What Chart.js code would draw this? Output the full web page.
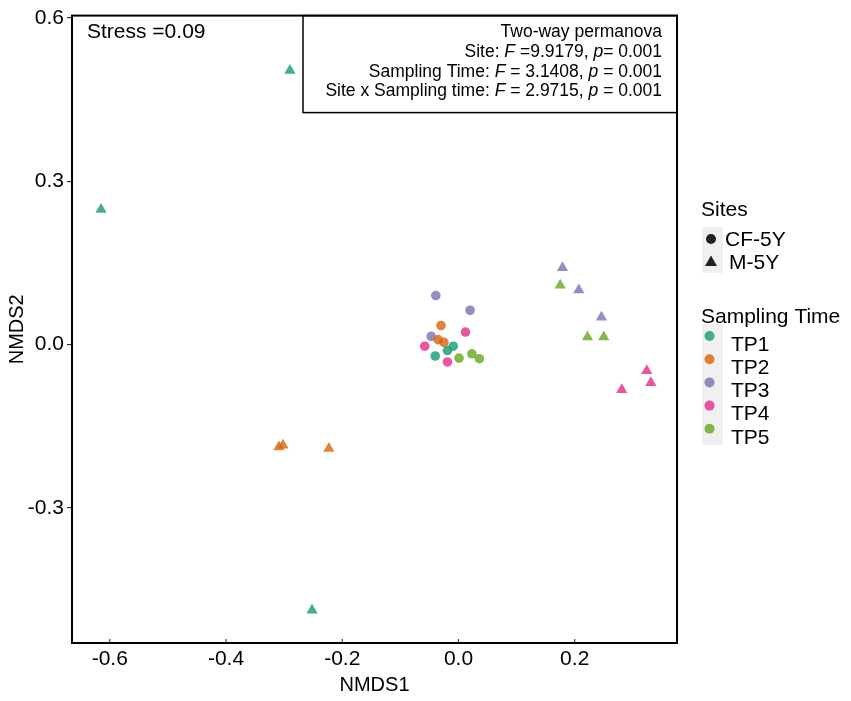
<!DOCTYPE html>
<html><head><meta charset="utf-8">
<script src="https://cdn.jsdelivr.net/npm/chart.js@4.4.1/dist/chart.umd.min.js"></script>
<style>html,body{margin:0;padding:0;background:#fff;}#wrap{position:relative;width:851px;height:701px;}</style>
</head><body><div id="wrap"><canvas id="c" width="851" height="701"></canvas></div>
<script>
// ---- data ----
const sites = ["CF-5Y", "M-5Y"];
const times = ["TP1", "TP2", "TP3", "TP4", "TP5"];
const xTicks = [-0.6, -0.4, -0.2, 0.0, 0.2];
const yTicks = [-0.3, 0.0, 0.3, 0.6];
const xLabel = "NMDS1";
const yLabel = "NMDS2";
const stressText = "Stress =0.09";
const permTitle = "Two-way permanova";
const permSite = [["Site: ", false], ["F", true], [" =9.9179, ", false], ["p", true], ["= 0.001", false]];
const permTime = [["Sampling Time: ", false], ["F", true], [" = 3.1408, ", false], ["p", true], [" = 0.001", false]];
const permInter = [["Site x Sampling time: ", false], ["F", true], [" = 2.9715, ", false], ["p", true], [" = 0.001", false]];

// CF-5Y (circles) [NMDS1, NMDS2]
const cf_TP1 = [[-0.009, -0.003], [-0.019, -0.011], [-0.040, -0.021]];
const cf_TP2 = [[-0.030, 0.035], [-0.035, 0.009], [-0.025, 0.004]];
const cf_TP3 = [[-0.039, 0.090], [0.020, 0.063], [-0.047, 0.015]];
const cf_TP4 = [[0.012, 0.023], [-0.058, -0.003], [-0.019, -0.032]];
const cf_TP5 = [[0.023, -0.017], [0.036, -0.026], [0.001, -0.025]];
// M-5Y (triangles)
const m_TP1 = [[-0.290, 0.503], [-0.615, 0.248], [-0.252, -0.488]];
const m_TP2 = [[-0.309, -0.188], [-0.302, -0.185], [-0.223, -0.191]];
const m_TP3 = [[0.179, 0.141], [0.207, 0.100], [0.246, 0.050]];
const m_TP4 = [[0.324, -0.048], [0.331, -0.070], [0.281, -0.083]];
const m_TP5 = [[0.175, 0.109], [0.222, 0.014], [0.250, 0.014]];

const colors = ["rgba(27,158,119,0.82)", "rgba(217,95,2,0.78)", "rgba(117,112,179,0.78)", "rgba(231,41,138,0.8)", "rgba(102,166,30,0.8)"];
const cfData = [cf_TP1, cf_TP2, cf_TP3, cf_TP4, cf_TP5];
const mData = [m_TP1, m_TP2, m_TP3, m_TP4, m_TP5];

const FONT = '"Liberation Sans", Arial, sans-serif';
const datasets = [];
times.forEach((t, i) => {
  datasets.push({label: sites[0] + " " + t, data: cfData[i].map(p => ({x: p[0], y: p[1]})),
    pointStyle: 'circle', pointRadius: 4.8, pointHoverRadius: 4.8, backgroundColor: colors[i], borderColor: colors[i], pointBorderWidth: 0});
  datasets.push({label: sites[1] + " " + t, data: mData[i].map(p => ({x: p[0], y: p[1]})),
    pointStyle: 'triangle', pointRadius: 6.5, pointHoverRadius: 6.5, backgroundColor: colors[i], borderColor: colors[i], pointBorderWidth: 0});
});

function drawRich(ctx, segs, rightX, y, size) {
  let total = 0;
  const ws = segs.map(s => { ctx.font = (s[1] ? 'italic ' : '') + size + 'px ' + FONT; const w = ctx.measureText(s[0]).width; total += w; return w; });
  let x = rightX - total;
  ctx.textAlign = 'left';
  segs.forEach((s, k) => { ctx.font = (s[1] ? 'italic ' : '') + size + 'px ' + FONT; ctx.fillText(s[0], x, y); x += ws[k]; });
}

const decor = {
  id: 'decor',
  afterDraw(chart) {
    const ctx = chart.ctx, a = chart.chartArea;
    ctx.save();
    // inward x ticks
    const xs = chart.scales.x;
    ctx.strokeStyle = '#444'; ctx.lineWidth = 1.2;
    xTicks.forEach(v => { const px = xs.getPixelForValue(v); ctx.beginPath(); ctx.moveTo(px, a.bottom); ctx.lineTo(px, a.bottom - 4); ctx.stroke(); });
    // annotation box
    ctx.fillStyle = '#fff';
    ctx.fillRect(303, a.top, a.right - 303, 97);
    ctx.strokeStyle = '#000'; ctx.lineWidth = 1.5;
    ctx.strokeRect(303, a.top, a.right - 303, 97);
    ctx.fillStyle = '#000'; ctx.textBaseline = 'middle';
    ctx.font = '17.5px ' + FONT; ctx.textAlign = 'right';
    ctx.fillText(permTitle, 662, 32);
    drawRich(ctx, permSite, 662, 52, 17.5);
    drawRich(ctx, permTime, 662, 72, 17.5);
    drawRich(ctx, permInter, 662, 91, 17.5);
    // frame
    ctx.strokeStyle = '#000'; ctx.lineWidth = 2;
    ctx.strokeRect(a.left, a.top, a.right - a.left, a.bottom - a.top);
    // stress
    ctx.textAlign = 'left'; ctx.font = '21px ' + FONT;
    ctx.fillText(stressText, 87, 32);
    // legend: sites
    ctx.font = '21px ' + FONT;
    ctx.fillText("Sites", 701, 210);
    ctx.fillStyle = '#f0f0f0';
    ctx.fillRect(702, 227, 21, 46);
    ctx.fillStyle = '#222';
    ctx.beginPath(); ctx.arc(711, 239, 5, 0, Math.PI * 2); ctx.fill();
    ctx.beginPath(); ctx.moveTo(711, 255.5); ctx.lineTo(717, 266); ctx.lineTo(705, 266); ctx.closePath(); ctx.fill();
    ctx.fillStyle = '#000';
    ctx.fillText(sites[0], 725, 240);
    ctx.fillText(sites[1], 729, 263);
    // legend: sampling time
    ctx.fillText("Sampling Time", 701, 317);
    ctx.fillStyle = '#f0f0f0';
    ctx.fillRect(702, 324, 21, 121);
    times.forEach((t, i) => {
      const cy = 336 + i * 23.2;
      ctx.fillStyle = colors[i];
      ctx.beginPath(); ctx.arc(709.5, cy, 5, 0, Math.PI * 2); ctx.fill();
      ctx.fillStyle = '#000';
      ctx.fillText(t, 731, cy + 9);
    });
    ctx.restore();
  }
};

const tickFont = {size: 21, family: FONT};
const titleFont = {size: 20, family: FONT};
new Chart(document.getElementById('c'), {
  type: 'scatter',
  data: {datasets},
  plugins: [decor],
  options: {
    responsive: false, animation: false, devicePixelRatio: 1,
    layout: {padding: {left: 0, top: 9, right: 174, bottom: 0}},
    plugins: {legend: {display: false}, tooltip: {enabled: false}},
    scales: {
      x: {type: 'linear', min: -0.665, max: 0.376,
        afterBuildTicks: s => { s.ticks = xTicks.map(v => ({value: v})); },
        afterFit: s => { s.height = 58; },
        ticks: {font: tickFont, color: '#000', padding: -1, callback: v => Number(v).toFixed(1)},
        grid: {drawOnChartArea: false, drawTicks: true, tickLength: 5, color: 'rgba(0,0,0,0)'},
        border: {display: false},
        title: {display: true, text: xLabel, font: titleFont, color: '#000', padding: {top: 0, bottom: 4}}
      },
      y: {type: 'linear', min: -0.548, max: 0.604,
        afterBuildTicks: s => { s.ticks = yTicks.map(v => ({value: v})); },
        afterFit: s => { s.width = 72; },
        ticks: {font: tickFont, color: '#000', padding: 3, callback: v => Number(v).toFixed(1)},
        grid: {drawOnChartArea: false, drawTicks: true, tickLength: 5, color: '#333', lineWidth: 1.2},
        border: {display: false},
        title: {display: true, text: yLabel, font: titleFont, color: '#000', padding: {top: 5, bottom: 0}}
      }
    }
  }
});
</script></body></html>
